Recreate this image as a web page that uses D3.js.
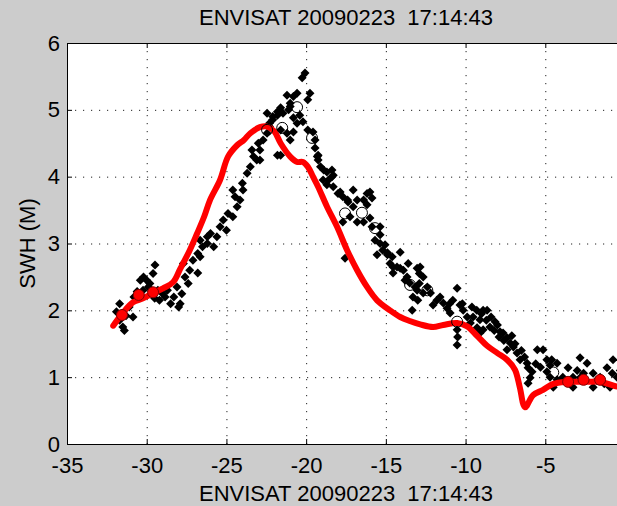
<!DOCTYPE html>
<html>
<head>
<meta charset="utf-8">
<script src="https://cdn.jsdelivr.net/npm/d3@7"></script>
<style>
  html, body { margin: 0; padding: 0; background: #cccccc; overflow: hidden; }
  svg text { font-family: "Liberation Sans", Arial, sans-serif; fill: #000; white-space: pre; }
</style>
</head>
<body>
<div id="graf"></div>
<script>
// titulos y ejes
const titulo = "ENVISAT 20090223  17:14:43"
const etiquetaY = "SWH (M)"
const ticksX = [-35, -30, -25, -20, -15, -10, -5]
const ticksY = [0, 1, 2, 3, 4, 5, 6]

// modelo (linea roja) [distancia, swh]
const modelo = [
  [-32.1,1.77],[-31.5,1.96],[-30.86,2.12],[-30.23,2.18],[-29.6,2.26],[-28.98,2.33],
  [-28.35,2.42],[-27.9,2.62],[-27.3,2.9],[-26.84,3.15],[-26.4,3.4],[-26.03,3.65],
  [-25.4,3.95],[-24.9,4.3],[-24.33,4.47],[-23.9,4.55],[-23.5,4.65],[-22.9,4.74],
  [-22.45,4.75],[-22.0,4.68],[-21.6,4.5],[-21.0,4.3],[-20.57,4.22],[-20.2,4.22],
  [-19.9,4.15],[-19.57,4.0],[-19.25,3.85],[-18.69,3.55],[-18.06,3.25],[-17.43,2.9],
  [-16.8,2.6],[-16.18,2.35],[-15.55,2.15],[-14.74,2.0],[-14.1,1.9],[-13.5,1.84],
  [-12.85,1.79],[-12.04,1.75],[-11.4,1.78],[-10.53,1.81],[-9.9,1.76],[-9.28,1.62],
  [-8.65,1.47],[-8.0,1.36],[-7.4,1.26],[-6.9,1.11],[-6.6,0.85],[-6.27,0.55],
  [-5.77,0.73],[-5.14,0.81],[-4.5,0.9],[-3.63,0.93],[-2.38,0.93],[-1.56,0.93],
  [-0.5,0.86],[0,0.85]
]

// marcas rojas grandes del modelo
const modeloMarcas = [
  [-31.55,1.93],[-30.5,2.23],[-29.6,2.27],[-3.57,0.93],[-2.6,0.96],[-1.56,0.96]
]

// promedios (circulos negros abiertos)
const promedios = [
  [-22.45,4.7],[-21.5,4.73],[-20.57,5.04],[-19.63,4.58],[-17.56,3.45],[-16.5,3.46],
  [-15.68,3.23],[-13.48,2.38],[-12.4,2.3],[-10.53,1.83],[-4.5,1.07]
]

// observaciones del altimetro (diamantes negros)
const observaciones = [
  [-31.9,1.98],[-31.7,2.1],[-31.7,1.85],[-31.5,1.75],[-31.4,1.7],[-31.3,1.92],[-31.1,2.05],
  [-30.86,1.9],[-30.8,2.2],[-30.6,2.28],[-30.4,2.45],[-30.23,2.3],[-30.2,2.5],[-30.0,2.45],
  [-29.9,2.35],[-29.8,2.4],[-29.6,2.55],[-29.48,2.68],[-29.5,2.18],[-29.3,2.3],[-29.2,2.15],
  [-29.0,2.25],[-28.85,2.2],[-28.7,2.3],[-28.5,2.1],[-28.3,2.2],[-28.1,2.35],[-28.0,2.05],
  [-27.9,2.1],[-27.8,2.25],[-27.6,2.5],[-27.7,2.7],[-27.4,2.4],[-27.3,2.6],[-27.1,2.75],
  [-26.8,2.85],[-26.8,2.56],[-26.65,3.05],[-26.65,2.8],[-26.5,2.95],[-26.2,3.1],[-26.2,3.0],
  [-26.0,3.15],[-25.8,2.95],[-25.6,3.1],[-25.4,3.25],[-25.2,3.35],[-25.0,3.2],[-24.9,3.45],
  [-24.6,3.4],[-24.6,3.8],[-24.46,3.7],[-24.33,3.55],[-24.15,3.65],[-24.0,3.9],[-23.96,3.8],
  [-23.7,4.05],[-23.5,4.15],[-23.4,4.4],[-23.3,4.3],[-23.1,4.25],[-23.0,4.5],[-22.9,4.4],
  [-22.9,4.25],[-22.7,4.55],[-22.45,4.65],[-22.45,4.95],[-22.3,4.75],[-22.3,4.8],[-22.1,4.85],
  [-22.1,4.9],[-21.8,4.92],[-21.8,4.97],[-21.8,4.32],[-21.6,4.7],[-21.6,5.03],[-21.6,4.32],
  [-21.45,4.95],[-21.2,4.65],[-21.2,5.22],[-21.1,5.0],[-21.0,5.05],[-21.0,5.1],[-21.0,4.55],
  [-20.8,5.2],[-20.8,4.88],[-20.8,4.67],[-20.57,5.25],[-20.57,4.8],[-20.4,4.92],[-20.25,5.48],
  [-20.2,4.82],[-20.07,5.55],[-19.9,5.15],[-19.9,4.7],[-19.76,5.25],[-19.57,4.67],[-19.44,4.55],
  [-19.44,4.43],[-19.25,4.32],[-19.25,4.25],[-19.3,4.3],[-19.1,4.15],[-18.9,4.1],[-18.94,3.95],
  [-18.7,4.07],[-18.6,3.95],[-18.7,3.88],[-18.38,4.1],[-18.38,4.0],[-18.3,4.02],[-18.3,3.85],
  [-18.0,3.75],[-17.87,3.77],[-17.7,3.7],[-17.4,3.65],[-17.37,3.62],[-17.05,3.8],[-17.05,3.55],
  [-16.8,3.65],[-16.4,3.65],[-16.18,3.75],[-16.0,3.77],[-15.87,3.68],[-16.18,3.58],[-17.25,3.4],
  [-17.7,3.32],[-16.8,3.32],[-16.4,3.32],[-16.0,3.38],[-15.87,3.25],[-15.36,3.25],[-15.36,3.13],
  [-15.68,3.05],[-15.36,3.0],[-15.05,2.98],[-15.55,2.83],[-15.2,2.9],[-14.9,2.83],[-14.9,2.86],
  [-14.74,2.7],[-14.6,2.8],[-14.55,2.65],[-14.3,2.65],[-14.1,2.63],[-14.1,2.87],[-14.55,2.56],
  [-13.9,2.6],[-13.8,2.45],[-13.67,2.5],[-13.6,2.7],[-13.5,2.41],[-13.17,2.35],[-13.04,2.63],
  [-12.85,2.65],[-12.66,2.5],[-12.9,2.55],[-12.9,2.4],[-13.04,2.3],[-13.3,2.2],[-13.0,2.15],
  [-12.66,2.26],[-12.4,2.35],[-12.2,2.26],[-11.8,2.15],[-11.6,2.2],[-12.04,2.08],[-11.4,2.11],
  [-11.16,2.03],[-11.0,2.1],[-10.97,1.96],[-10.8,2.15],[-13.35,2.0],[-10.53,2.33],[-10.35,2.08],
  [-10.2,2.1],[-10.15,2.0],[-9.9,1.9],[-9.6,2.05],[-9.53,1.9],[-9.3,2.0],[-9.7,1.81],[-9.1,1.86],
  [-9.0,1.95],[-8.9,2.0],[-8.65,2.0],[-8.7,1.85],[-8.4,1.9],[-8.15,1.83],[-8.0,1.78],[-8.47,1.75],
  [-8.2,1.7],[-8.9,1.71],[-9.1,1.66],[-9.28,1.74],[-7.84,1.68],[-7.9,1.6],[-7.65,1.66],
  [-7.6,1.55],[-7.4,1.59],[-7.1,1.62],[-7.2,1.51],[-7.0,1.45],[-6.9,1.5],[-7.4,1.41],
  [-6.77,1.36],[-6.5,1.4],[-6.58,1.26],[-6.3,1.3],[-6.14,1.21],[-6.08,1.14],[-5.83,1.08],
  [-5.95,0.99],[-6.08,0.91],[-5.6,1.2],[-5.5,1.41],[-5.3,1.15],[-5.14,1.41],[-4.9,1.26],
  [-4.6,1.26],[-4.7,1.18],[-4.26,1.21],[-4.9,1.08],[-10.53,1.71],[-10.5,1.6],[-10.53,1.48],
  [-4.7,1.0],[-4.5,0.85],[-4.26,0.96],[-3.9,1.0],[-3.57,1.14],[-3.26,1.0],[-3.26,0.85],
  [-3.0,1.1],[-2.82,1.29],[-2.82,0.99],[-2.6,1.06],[-2.38,1.21],[-2.0,1.06],[-2.0,0.85],
  [-1.8,0.95],[-1.56,1.0],[-1.3,0.9],[-1.13,1.14],[-0.94,0.85],[-0.8,1.06],[-0.75,1.26],
  [-0.5,1.0],[-0.3,1.1],[-0.2,0.95],[-17.56,2.78]
]

const anchoTotal = 617
const altoTotal = 506
const margins = { top: 43, left: 67, bottom: 62 }
// el extremo derecho del eje (0) queda fuera de la ventana
const xDer = 625

const svg = d3.select("#graf")
  .append("svg")
  .attr("width", anchoTotal)
  .attr("height", altoTotal)

const x = d3.scaleLinear().domain([-35, 0]).range([margins.left, xDer])
const y = d3.scaleLinear().domain([0, 6]).range([altoTotal - margins.bottom, margins.top])

// area blanca
svg.append("rect")
  .attr("x", x(-35))
  .attr("y", y(6))
  .attr("width", x(0) - x(-35))
  .attr("height", y(0) - y(6))
  .attr("fill", "white")

// rejilla punteada
const grid = svg.append("g")
grid.selectAll("line.v")
  .data(ticksX.slice(1))
  .enter()
  .append("line")
  .attr("x1", d => x(d) + 0.5).attr("x2", d => x(d) + 0.5)
  .attr("y1", y(6)).attr("y2", y(0))
grid.selectAll("line.h")
  .data(ticksY.slice(1, -1))
  .enter()
  .append("line")
  .attr("x1", x(-35)).attr("x2", x(0))
  .attr("y1", d => y(d) + 0.5).attr("y2", d => y(d) + 0.5)
grid.selectAll("line")
  .attr("stroke", "#222")
  .attr("stroke-width", 1)
  .attr("stroke-dasharray", "1.2,6.8")

const lineaModelo = d3.line()
  .x(d => x(d[0]))
  .y(d => y(d[1]))
  .curve(d3.curveCatmullRom)

// diamantes negros
const diamante = "M0,-4.5L4.5,0L0,4.5L-4.5,0Z"
svg.append("g")
  .selectAll("path")
  .data(observaciones)
  .enter()
  .append("path")
  .attr("d", diamante)
  .attr("transform", d => `translate(${x(d[0])}, ${y(d[1])})`)
  .attr("fill", "black")

// linea roja gruesa del modelo
svg.append("path")
  .datum(modelo)
  .attr("d", lineaModelo)
  .attr("fill", "none")
  .attr("stroke", "#ff0000")
  .attr("stroke-width", 6)
  .attr("stroke-linejoin", "round")
  .attr("stroke-linecap", "round")

svg.append("g")
  .selectAll("circle")
  .data(modeloMarcas)
  .enter()
  .append("circle")
  .attr("cx", d => x(d[0]))
  .attr("cy", d => y(d[1]))
  .attr("r", 5.5)
  .attr("fill", "#ff0000")
  .attr("stroke", "#800000")
  .attr("stroke-width", 1)

// circulos abiertos
svg.append("g")
  .selectAll("circle")
  .data(promedios)
  .enter()
  .append("circle")
  .attr("cx", d => x(d[0]))
  .attr("cy", d => y(d[1]))
  .attr("r", 5.5)
  .attr("fill", "none")
  .attr("stroke", "black")
  .attr("stroke-width", 1)

// Ejes (guion corto como en el original)
const xAxis = d3.axisBottom(x).tickValues(ticksX).tickSizeInner(-5).tickSizeOuter(0).tickPadding(13)
  .tickFormat(d => String(d))
const xTop = d3.axisTop(x).tickValues(ticksX).tickSizeInner(-5).tickSizeOuter(0).tickFormat("")
const yAxis = d3.axisLeft(y).tickValues(ticksY).tickSizeInner(-5).tickSizeOuter(0).tickPadding(7)
  .tickFormat(d => String(d))

svg.append("g").attr("transform", `translate(0, ${y(0)})`).call(xAxis)
svg.append("g").attr("transform", `translate(0, ${y(6)})`).call(xTop)
svg.append("g").attr("transform", `translate(${x(-35)}, 0)`).call(yAxis)

svg.selectAll(".domain").attr("stroke", "black").attr("stroke-width", 1)
svg.selectAll(".tick line").attr("stroke", "black")
svg.selectAll(".tick text").style("font-size", "22px").attr("fill", "black")

// Títulos
svg.append("text")
  .attr("x", (x(-35) + x(0)) / 2)
  .attr("y", 25)
  .attr("text-anchor", "middle")
  .style("font-size", "22px")
  .text(titulo)

svg.append("text")
  .attr("x", (x(-35) + x(0)) / 2)
  .attr("y", 501)
  .attr("text-anchor", "middle")
  .style("font-size", "22px")
  .text(titulo)

svg.append("text")
  .attr("transform", `translate(35, ${(y(0) + y(6)) / 2}) rotate(-90)`)
  .attr("text-anchor", "middle")
  .style("font-size", "22px")
  .text(etiquetaY)
</script>
</body>
</html>
